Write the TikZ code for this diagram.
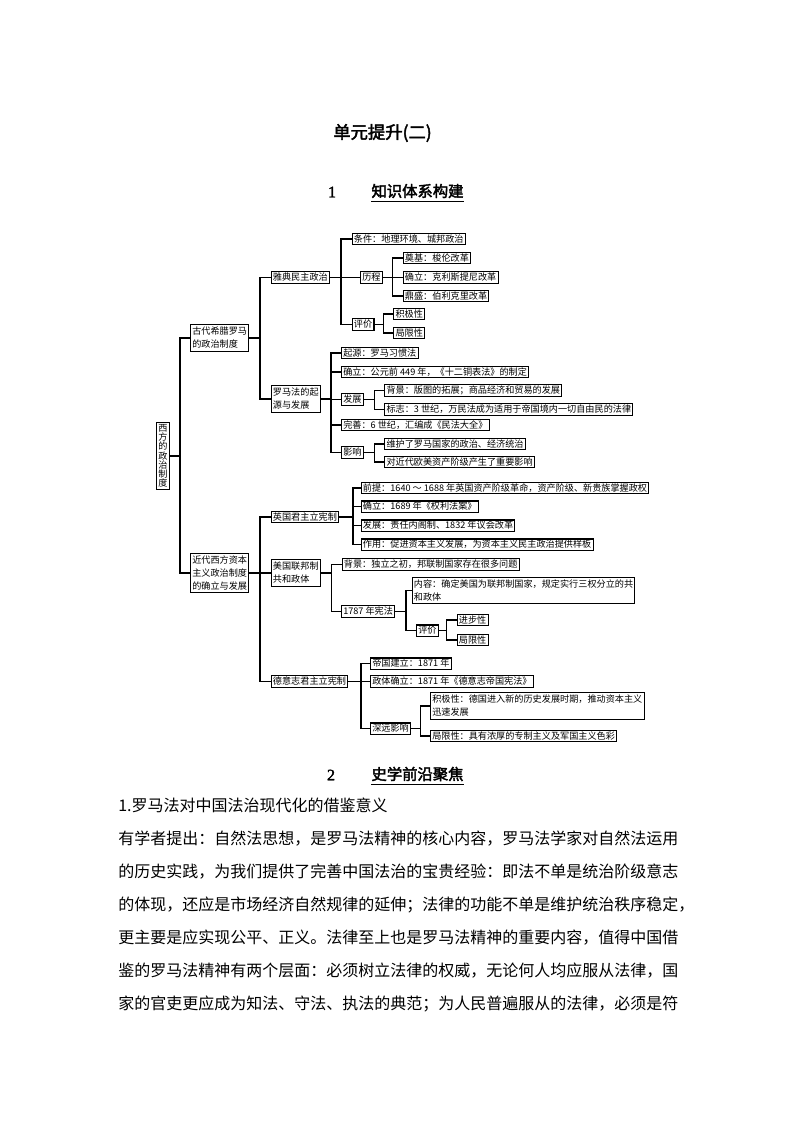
\documentclass[tikz,border=0pt]{standalone}
\usepackage{fontspec}
\setmainfont{Noto Sans CJK SC}[AutoFakeBold=2.5]
\newfontfamily\numfont{Liberation Serif}[AutoFakeBold=2]
\newcommand\myfork[3]{%
  \foreach \ch in {#3}{\draw[link] (#1.east) -- (#2 |- #1.east) |- (\ch.west);}%
}
\newcommand\bodyline[1]{{\XeTeXlinebreaklocale "zh"\XeTeXlinebreakskip=0pt plus 4pt\makebox[423pt][s]{#1}}}
\begin{document}
\begin{tikzpicture}[x=0.75pt,y=-0.75pt,
  box/.style={draw,line width=0.8pt,inner xsep=1.3pt,inner ysep=0.8pt,text height=5.9pt,text depth=1.1pt,font=\fontsize{6.85}{8}\selectfont,anchor=west},
  mbox/.style={draw,line width=0.8pt,inner xsep=1.3pt,inner ysep=2pt,align=left,font=\fontsize{6.85}{9.75}\selectfont,anchor=west},
  link/.style={line width=0.8pt},
  body/.style={anchor=west,inner sep=0pt,text height=10.5pt,text depth=1.5pt,font=\fontsize{12}{14}\selectfont},
  head/.style={font=\fontsize{11.5}{13}\selectfont\bfseries,inner sep=0pt},
  num/.style={font=\fontsize{12}{13}\selectfont\numfont\bfseries,inner sep=0pt}]
\fill[white] (0,0) rectangle (794,1123);
\useasboundingbox (0,0) rectangle (794,1123);

% titles
\node[font=\fontsize{13}{15}\selectfont\bfseries] (title) at (382.5,133) {单元提升(二)};
\node[num] (n1) at (332,192) {1};
\node[head] (s1) at (417.5,191) {知识体系构建};
\draw[line width=1.1pt] ([yshift=-2.5pt]s1.south west) -- ([yshift=-2.5pt]s1.south east);
\node[num] (n2) at (331,775) {2};
\node[head] (s2) at (417.5,774) {史学前沿聚焦};
\draw[line width=0.9pt] ([yshift=-2.5pt]s2.south west) -- ([yshift=-2.5pt]s2.south east);

% bus coordinates
\coordinate (bA) at (180,0);
\coordinate (bB) at (260,0);
\coordinate (bC) at (341,0);
\coordinate (bD) at (392.7,0);
\coordinate (bE) at (383.3,0);
\coordinate (bF) at (331,0);
\coordinate (bG) at (374.3,0);
\coordinate (bJ) at (353,0);
\coordinate (bK) at (331.7,0);
\coordinate (bL) at (406,0);
\coordinate (bM) at (446.7,0);
\coordinate (bN) at (361,0);
\coordinate (bO) at (420.7,0);

% nodes
\node[mbox,anchor=center,align=center,inner ysep=1.5pt,font=\fontsize{6.85}{6.9}\selectfont] (root) at (163,456) {西\\方\\的\\政\\治\\制\\度};

\node[mbox] (gd) at (190,338) {古代希腊罗马\\的政治制度};
\node[box] (yd) at (270.7,277.5) {雅典民主政治};
\node[box] (tj) at (351.7,239) {条件：地理环境、城邦政治};
\node[box] (lc) at (360,277.5) {历程};
\node[box] (dj) at (402.7,258) {奠基：梭伦改革};
\node[box] (ql) at (402.7,277.5) {确立：克利斯提尼改革};
\node[box] (ds) at (402.7,296) {鼎盛：伯利克里改革};
\node[box] (pj1) at (351.7,324.5) {评价};
\node[box] (jj1) at (393.3,314) {积极性};
\node[box] (jx1) at (393.3,333) {局限性};
\node[mbox] (lm) at (270.7,399) {罗马法的起\\源与发展};
\node[box] (qy) at (341,353) {起源：罗马习惯法};
\node[box] (ql2) at (341,372) {确立：公元前 449 年，《十二铜表法》的制定};
\node[box] (fz) at (341,399.5) {发展};
\node[box] (bj) at (384.3,390.5) {背景：版图的拓展；商品经济和贸易的发展};
\node[box] (bz) at (384.3,409.5) {标志：3 世纪，万民法成为适用于帝国境内一切自由民的法律};
\node[box] (ws) at (341,425) {完善：6 世纪，汇编成《民法大全》};
\node[box] (yx) at (341,452.5) {影响};
\node[box] (wh) at (384.3,444) {维护了罗马国家的政治、经济统治};
\node[box] (dj2) at (384.3,462) {对近代欧美资产阶级产生了重要影响};

\node[mbox] (jd) at (190,573) {近代西方资本\\主义政治制度\\的确立与发展};
\node[box] (yg) at (270.7,517) {英国君主立宪制};
\node[box] (qt) at (360.7,488) {前提：1640 ～ 1688 年英国资产阶级革命，资产阶级、新贵族掌握政权};
\node[box] (ql3) at (360.7,506.7) {确立：1689 年《权利法案》};
\node[box] (fz2) at (360.7,525.7) {发展：责任内阁制、1832 年议会改革};
\node[box] (zy) at (360.7,544.7) {作用：促进资本主义发展，为资本主义民主政治提供样板};
\node[mbox] (mg) at (270.7,573) {美国联邦制\\共和政体};
\node[box] (bj2) at (341.7,564.3) {背景：独立之初，邦联制国家存在很多问题};
\node[box] (xf) at (341,611.5) {1787 年宪法};
\node[mbox] (nr) at (411.7,590.5) {内容：确定美国为联邦制国家，规定实行三权分立的共\\和政体};
\node[box] (pj2) at (416,630.7) {评价};
\node[box] (jb) at (456.7,620) {进步性};
\node[box] (jx2) at (456.7,640) {局限性};
\node[box] (dy) at (270.7,681.5) {德意志君主立宪制};
\node[box] (dg) at (370,663.7) {帝国建立：1871 年};
\node[box] (zt) at (370,681.5) {政体确立：1871 年《德意志帝国宪法》};
\node[box] (sy) at (370,728.7) {深远影响};
\node[mbox] (jj2) at (430,706) {积极性：德国进入新的历史发展时期，推动资本主义\\迅速发展};
\node[box] (jx3) at (430,736) {局限性：具有浓厚的专制主义及军国主义色彩};

% connectors
\myfork{root}{bA}{gd,jd}
\myfork{gd}{bB}{yd,lm}
\myfork{yd}{bC}{tj,lc,pj1}
\myfork{lc}{bD}{dj,ql,ds}
\myfork{pj1}{bE}{jj1,jx1}
\myfork{lm}{bF}{qy,ql2,fz,ws,yx}
\myfork{fz}{bG}{bj,bz}
\myfork{yx}{bG}{wh,dj2}
\myfork{jd}{bB}{yg,mg,dy}
\myfork{yg}{bJ}{qt,ql3,fz2,zy}
\myfork{mg}{bK}{bj2,xf}
\myfork{xf}{bL}{nr,pj2}
\myfork{pj2}{bM}{jb,jx2}
\myfork{dy}{bN}{dg,zt,sy}
\myfork{sy}{bO}{jj2,jx3}

% body text
\node[body] (l0) at (118,805) {1.罗马法对中国法治现代化的借鉴意义};
\node[body] (l1) at (118,838) {\bodyline{有学者提出：自然法思想，是罗马法精神的核心内容，罗马法学家对自然法运用}};
\node[body] (l2) at (118,871) {\bodyline{的历史实践，为我们提供了完善中国法治的宝贵经验：即法不单是统治阶级意志}};
\node[body] (l3) at (118,904) {\bodyline{的体现，还应是市场经济自然规律的延伸；法律的功能不单是维护统治秩序稳定，}};
\node[body] (l4) at (118,937) {\bodyline{更主要是应实现公平、正义。法律至上也是罗马法精神的重要内容，值得中国借}};
\node[body] (l5) at (118,970) {\bodyline{鉴的罗马法精神有两个层面：必须树立法律的权威，无论何人均应服从法律，国}};
\node[body] (l6) at (118,1003) {\bodyline{家的官吏更应成为知法、守法、执法的典范；为人民普遍服从的法律，必须是符}};
\end{tikzpicture}
\end{document}
